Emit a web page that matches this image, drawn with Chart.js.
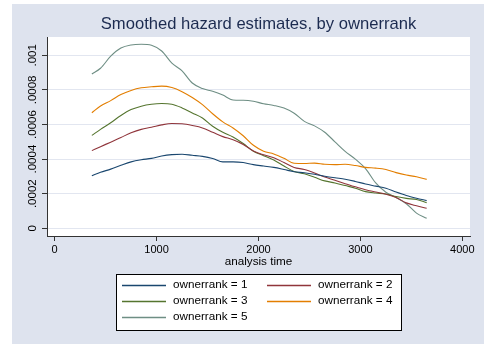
<!DOCTYPE html>
<html>
<head>
<meta charset="utf-8">
<script src="https://cdn.jsdelivr.net/npm/chart.js@4.4.1/dist/chart.umd.min.js"></script>
<style>
  html, body { margin: 0; padding: 0; background: #fff; }
  canvas { display: block; }
</style>
</head>
<body>
<canvas id="hazardChart" width="484" height="344"></canvas>
<script>
// analysis time grid for the smoothed estimates
const times = [365, 450, 550, 650, 750, 850, 950, 1050, 1150, 1250, 1350, 1450, 1550, 1650,
  1750, 1850, 1950, 2050, 2150, 2250, 2350, 2450, 2550, 2650, 2750, 2850, 2950, 3050,
  3150, 3250, 3350, 3450, 3550, 3650];

const rank1 = [.000304, .000324, .000342, .000364, .000384, .000396, .000404, .000418, .000426, .000428,
  .000422, .000416, .000404, .000384, .000384, .000380, .000368, .000360, .000352, .000340,
  .000327, .000321, .000312, .000301, .000292, .000284, .000271, .000256, .000244, .000232,
  .000210, .000190, .000174, .000160];

const rank2 = [.000449, .000472, .000498, .000525, .000552, .000572, .000584, .000598, .000606, .000604,
  .000594, .000580, .000555, .000530, .000512, .000485, .000447, .000425, .000408, .000380,
  .000352, .000340, .000320, .000296, .000278, .000258, .000240, .000223, .000210, .000197,
  .000178, .000147, .000130, .000116];

const rank3 = [.000537, .000572, .000610, .000652, .000686, .000706, .000717, .000721, .000717, .000696,
  .000667, .000638, .000590, .000555, .000528, .000490, .000445, .000420, .000395, .000360,
  .000328, .000315, .000295, .000274, .000262, .000247, .000232, .000212, .000204, .000198,
  .000184, .000173, .000166, .000148];

const rank4 = [.000668, .000707, .000738, .000773, .000797, .000812, .000818, .000822, .000814, .000790,
  .000756, .000715, .000662, .000615, .000580, .000535, .000480, .000446, .000430, .000405,
  .000376, .000375, .000377, .000370, .000368, .000370, .000363, .000352, .000348, .000340,
  .000322, .000308, .000298, .000283];

const rank5 = [.000892, .000925, .000995, .001042, .001060, .001064, .001058, .001025, .000955, .000910,
  .000840, .000808, .000792, .000770, .000742, .000740, .000734, .000720, .000710, .000695,
  .000665, .000618, .000592, .000555, .000500, .000445, .000400, .000345, .000262, .000208,
  .000178, .000142, .000088, .000058];

const seriesNames = ['ownerrank = 1', 'ownerrank = 2', 'ownerrank = 3', 'ownerrank = 4', 'ownerrank = 5'];
const seriesColors = ['#1a476f', '#90353b', '#55752f', '#e37e00', '#6e8e84'];

const xTicks = [0, 1000, 2000, 3000, 4000];
const yTicks = [0, .0002, .0004, .0006, .0008, .001];
const yTickLabels = ['0', '.0002', '.0004', '.0006', '.0008', '.001'];

const FONT = '"Liberation Sans", Arial, Helvetica, sans-serif';

const toPoints = values => times.map((t, i) => ({ x: t, y: values[i] }));

// light bluish-gray graph region with a white plot region, plus titles and the boxed legend
const stataFrame = {
  id: 'stataFrame',
  beforeDraw(chart) {
    const { ctx, chartArea: a } = chart;
    ctx.save();
    ctx.fillStyle = '#ffffff';
    ctx.fillRect(0, 0, chart.width, chart.height);
    ctx.fillStyle = '#dee3ee';
    ctx.fillRect(12, 4, chart.width - 12, chart.height - 4);
    ctx.fillStyle = '#ffffff';
    ctx.fillRect(a.left, a.top, a.right - a.left, a.bottom - a.top);
    ctx.restore();
  },
  afterDraw(chart) {
    const { ctx, chartArea: a } = chart;
    const mid = (a.left + a.right) / 2;
    ctx.save();
    ctx.textAlign = 'center';
    ctx.textBaseline = 'middle';

    ctx.fillStyle = '#1c2b50';
    ctx.font = '16.6px ' + FONT;
    ctx.fillText('Smoothed hazard estimates, by ownerrank', mid, 24);

    ctx.fillStyle = '#000000';
    ctx.font = '11.7px ' + FONT;
    ctx.fillText('analysis time', mid, 262);

    // legend box
    ctx.fillStyle = '#ffffff';
    ctx.fillRect(116, 274, 285, 56);
    ctx.strokeStyle = '#000000';
    ctx.lineWidth = 1;
    ctx.strokeRect(116.5, 274.5, 285, 56);

    ctx.textAlign = 'left';
    const colX = [122, 267];
    chart.data.datasets.forEach((ds, i) => {
      const x0 = colX[i % 2];
      const y = 285 + Math.floor(i / 2) * 16;
      ctx.strokeStyle = ds.borderColor;
      ctx.lineWidth = 1.3;
      ctx.beginPath();
      ctx.moveTo(x0, y + 0.5);
      ctx.lineTo(x0 + 44, y + 0.5);
      ctx.stroke();
      ctx.fillStyle = '#000000';
      ctx.fillText(ds.label, x0 + 51, y);
    });
    ctx.restore();
  }
};

new Chart(document.getElementById('hazardChart'), {
  type: 'line',
  data: {
    datasets: [rank1, rank2, rank3, rank4, rank5].map((values, i) => ({
      label: seriesNames[i],
      data: toPoints(values),
      borderColor: seriesColors[i],
      borderWidth: 1.1,
      pointRadius: 0,
      fill: false,
      cubicInterpolationMode: 'monotone'
    }))
  },
  options: {
    responsive: false,
    devicePixelRatio: 1,
    animation: false,
    layout: { padding: { top: 37, right: 14, left: 0, bottom: 0 } },
    plugins: {
      legend: { display: false },
      title: { display: false },
      tooltip: { enabled: false }
    },
    scales: {
      x: {
        type: 'linear',
        min: -75,
        max: 4075,
        afterBuildTicks: s => { s.ticks = xTicks.map(v => ({ value: v })); },
        afterFit: s => { s.height = 108; },
        border: { color: '#333333', width: 1 },
        grid: { drawOnChartArea: false, tickLength: 5, tickColor: '#333333' },
        ticks: {
          color: '#000000',
          padding: 2,
          maxRotation: 0,
          font: { family: FONT, size: 11 },
          callback: v => String(v)
        }
      },
      y: {
        type: 'linear',
        min: -0.0000445,
        max: 0.0011058,
        afterBuildTicks: s => { s.ticks = yTicks.map(v => ({ value: v })); },
        afterFit: s => { s.width = 47; },
        border: { color: '#333333', width: 1 },
        grid: { color: '#e2e6f0', lineWidth: 1, tickLength: 5, tickColor: '#333333' },
        ticks: {
          color: '#000000',
          padding: -5,
          minRotation: 90,
          maxRotation: 90,
          crossAlign: 'center',
          font: { family: FONT, size: 11.5 },
          callback: (v, i) => yTickLabels[i]
        }
      }
    }
  },
  plugins: [stataFrame]
});
</script>
</body>
</html>
